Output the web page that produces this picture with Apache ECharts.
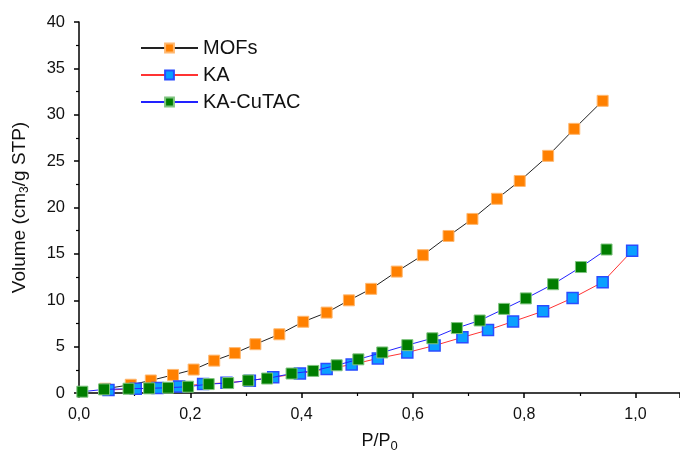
<!DOCTYPE html>
<html>
<head>
<meta charset="utf-8">
<script src="https://cdn.jsdelivr.net/npm/echarts@6/dist/echarts.min.js"></script>
<style>
  html, body { margin: 0; padding: 0; background: #fff; }
  #chart { width: 680px; height: 458px; }
</style>
</head>
<body>
<div id="chart"></div>
<script>
// Relative pressure (P/P0) and adsorbed volume (cm3/g STP) for each sample
const mofsP = [0.047, 0.093, 0.129, 0.169, 0.206, 0.243, 0.280, 0.317, 0.360, 0.403, 0.445,
               0.485, 0.525, 0.571, 0.618, 0.664, 0.707, 0.751, 0.792, 0.843, 0.890, 0.941];
const mofsV = [0.46, 0.89, 1.35, 1.95, 2.53, 3.49, 4.30, 5.26, 6.33, 7.68, 8.67,
               9.99, 11.23, 13.09, 14.86, 16.93, 18.77, 20.94, 22.86, 25.57, 28.48, 31.5];

const kaP = [0.053, 0.102, 0.141, 0.180, 0.223, 0.265, 0.307, 0.349, 0.397, 0.445, 0.490,
             0.537, 0.590, 0.639, 0.689, 0.735, 0.780, 0.834, 0.887, 0.941, 0.994];
const kaV = [0.32, 0.46, 0.53, 0.71, 0.96, 1.10, 1.33, 1.71, 2.10, 2.60, 3.06,
             3.73, 4.37, 5.12, 6.00, 6.79, 7.71, 8.82, 10.24, 11.95, 15.33];

const cutacP = [0.006, 0.045, 0.089, 0.126, 0.160, 0.196, 0.233, 0.268, 0.304, 0.338, 0.382, 0.421,
                0.463, 0.502, 0.545, 0.590, 0.635, 0.679, 0.720, 0.764, 0.803, 0.852, 0.902, 0.948];
const cutacV = [0.14, 0.39, 0.46, 0.50, 0.57, 0.68, 0.96, 1.07, 1.35, 1.56, 2.10, 2.38,
                2.99, 3.63, 4.37, 5.16, 5.90, 7.00, 7.82, 9.07, 10.20, 11.73, 13.58, 15.47];

const seriesNames = ['MOFs', 'KA', 'KA-CuTAC'];
const xTickLabels = ['0,0', '0,2', '0,4', '0,6', '0,8', '1,0'];

const pairs = (xs, ys) => xs.map((x, i) => [x, ys[i]]);
const FONT = 'Arial, "Liberation Sans", sans-serif';

const chart = echarts.init(document.getElementById('chart'), null, { renderer: 'canvas' });

chart.setOption({
  animation: false,
  backgroundColor: '#ffffff',
  grid: { left: 79, right: 0, top: 22, bottom: 61, containLabel: false },
  legend: {
    orient: 'vertical',
    left: 135,
    top: 33,
    itemWidth: 57,
    itemHeight: 11,
    itemGap: 7,
    textStyle: { fontFamily: FONT, fontSize: 20, color: '#111' },
    data: seriesNames
  },
  xAxis: {
    type: 'value',
    min: 0,
    max: 1.08,
    interval: 0.2,
    name: '{a|P/P}{s|0}',
    nameLocation: 'middle',
    nameGap: 36,
    nameTextStyle: {
      rich: {
        a: { fontFamily: FONT, fontSize: 18, color: '#111' },
        s: { fontFamily: FONT, fontSize: 13, color: '#111', padding: [11, 0, 0, 0] }
      }
    },
    axisLine: { show: true, lineStyle: { color: '#000', width: 1.5 } },
    axisTick: { show: true, length: 5, inside: false, lineStyle: { color: '#000', width: 1.5 } },
    minorTick: { show: true, splitNumber: 2, length: 3, lineStyle: { color: '#000', width: 1.2 } },
    splitLine: { show: false },
    axisLabel: {
      margin: 14,
      showMaxLabel: false,
      fontFamily: FONT, fontSize: 16, color: '#111',
      formatter: function (v) {
        const idx = Math.round(v / 0.2);
        return xTickLabels[idx] !== undefined && Math.abs(v - idx * 0.2) < 1e-6 ? xTickLabels[idx] : '';
      }
    }
  },
  yAxis: {
    type: 'value',
    min: 0,
    max: 40,
    interval: 5,
    name: '{a|Volume (cm}{s|3}{a|/g STP)}',
    nameLocation: 'middle',
    nameRotate: 90,
    nameGap: 48,
    nameTextStyle: {
      rich: {
        a: { fontFamily: FONT, fontSize: 19, color: '#111' },
        s: { fontFamily: FONT, fontSize: 12, color: '#111', padding: [10, 0, 0, 0] }
      }
    },
    axisLine: { show: true, lineStyle: { color: '#000', width: 1.5 } },
    axisTick: { show: true, length: 5, lineStyle: { color: '#000', width: 1.5 } },
    minorTick: { show: true, splitNumber: 2, length: 3, lineStyle: { color: '#000', width: 1.2 } },
    splitLine: { show: false },
    axisLabel: { margin: 14, fontFamily: FONT, fontSize: 16.5, color: '#111' }
  },
  series: [
    {
      name: seriesNames[0],
      type: 'line',
      data: pairs(mofsP, mofsV),
      symbol: 'rect',
      symbolSize: 11,
      lineStyle: { color: '#222', width: 1 },
      itemStyle: { color: '#ff8000', borderColor: '#ffb870', borderWidth: 1 },
      z: 2
    },
    {
      name: seriesNames[1],
      type: 'line',
      data: pairs(kaP, kaV),
      symbol: 'rect',
      symbolSize: 11,
      lineStyle: { color: '#ff3333', width: 1 },
      itemStyle: { color: '#0aa0ff', borderColor: '#2b4cff', borderWidth: 1.5 },
      z: 3
    },
    {
      name: seriesNames[2],
      type: 'line',
      data: pairs(cutacP, cutacV),
      symbol: 'rect',
      symbolSize: 11,
      lineStyle: { color: '#2222ff', width: 1 },
      itemStyle: { color: '#007d00', borderColor: '#7fc47f', borderWidth: 1 },
      z: 4
    }
  ]
});
</script>
</body>
</html>
